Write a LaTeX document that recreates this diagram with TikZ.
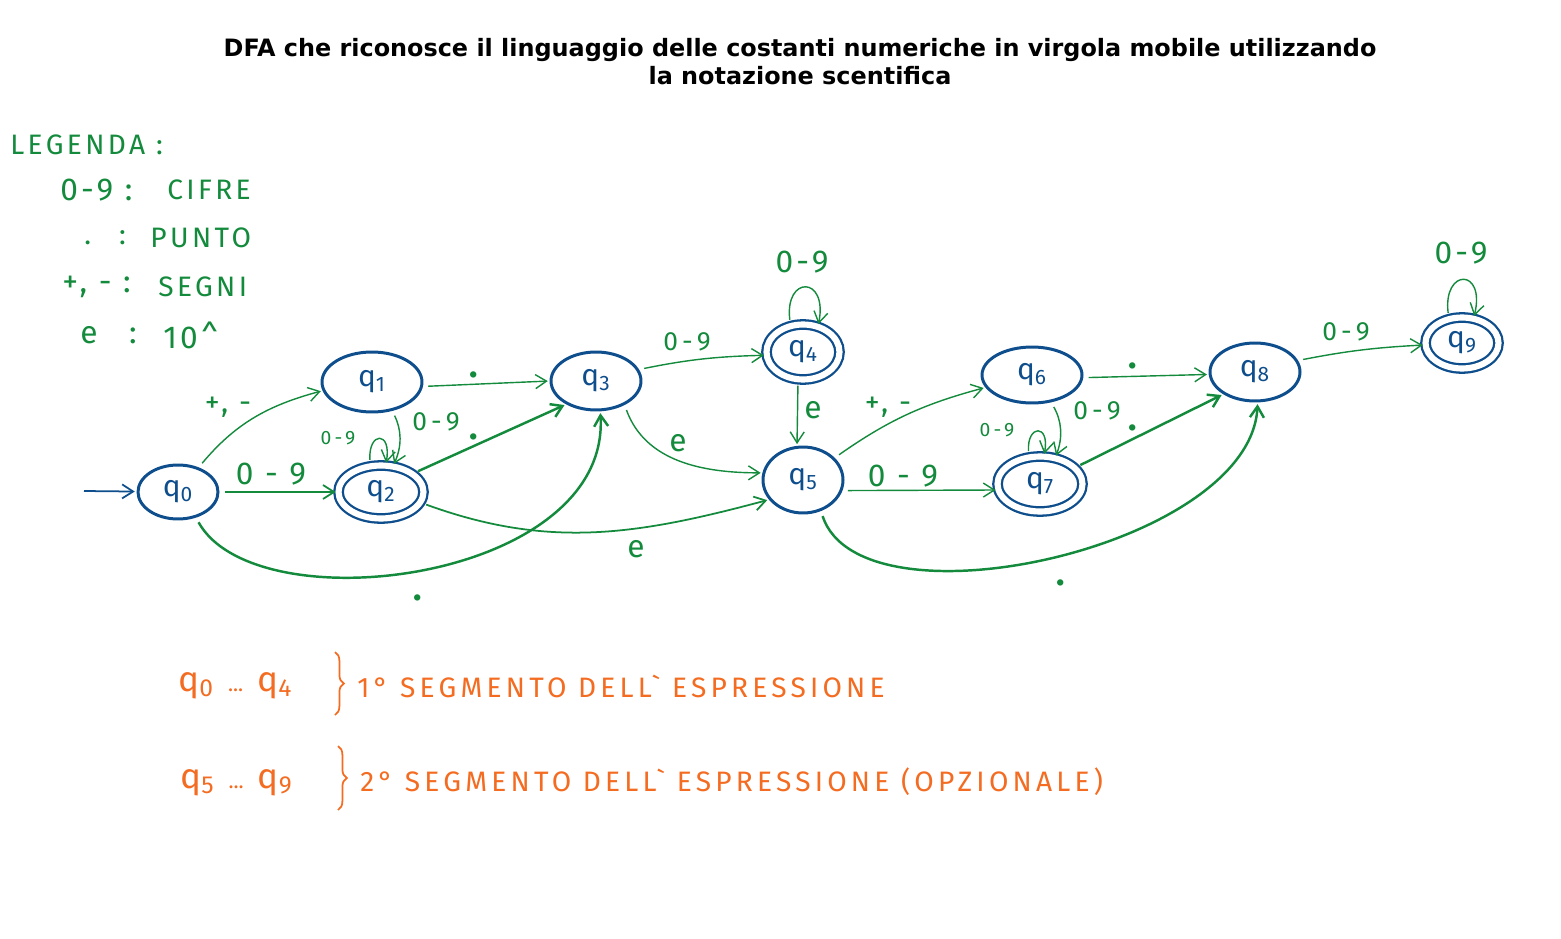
\documentclass[tikz,border=0pt]{standalone}
\usepackage{fontspec}
\setmainfont{Fira Sans}
\newfontfamily\titlefont{DejaVu Sans}
\usetikzlibrary{
  arrows.meta,
  shapes.geometric,
  decorations.pathreplacing
}
\definecolor{dfaBlue}{HTML}{0E4E8C}
\definecolor{dfaGreen}{HTML}{138A3C}
\definecolor{dfaOrange}{HTML}{F36C21}
\newcommand{\qs}[1]{q\textsubscript{#1}}
\newcommand{\qrange}[2]{\qs{#1}\hspace{0.4em}{\fontsize{12}{12}\selectfont ...}\hspace{0.4em}\qs{#2}}
\tikzset{
  dfastate/.style={
    draw=dfaBlue, ellipse, line width=1.7pt, inner sep=0pt,
    text=dfaBlue, font=\fontsize{17}{17}\selectfont
  },
  dfafinal/.style={dfastate, double, double distance=3.5pt, line width=1.3pt},
  trans/.style={-{Straight Barb[length=2.2mm, width=2.8mm]}, dfaGreen, line width=0.8pt,
    shorten <=3pt, shorten >=1pt},
  transbold/.style={trans, line width=1.4pt},
  lbl/.style={text=dfaGreen, inner sep=0pt, font=\fontsize{15}{15}\selectfont\addfontfeature{LetterSpace=16}},
  lblbig/.style={lbl, font=\fontsize{18}{18}\selectfont\addfontfeature{LetterSpace=10}},
  lblsmall/.style={lbl, font=\fontsize{11}{11}\selectfont\addfontfeature{LetterSpace=16}},
  lblsign/.style={lbl, font=\fontsize{17}{17}\selectfont\addfontfeature{LetterSpace=10}},
  lbldot/.style={lbl, font=\fontsize{20}{20}\bfseries\selectfont},
  legend/.style={text=dfaGreen, anchor=west, inner sep=0pt,
    font=\fontsize{16}{16}\selectfont\addfontfeature{LetterSpace=12}},
  note/.style={text=dfaOrange, anchor=base west, inner sep=0pt,
    font=\fontsize{16}{16}\selectfont\addfontfeature{LetterSpace=15}},
  noteq/.style={note, font=\fontsize{20}{20}\selectfont},
  notebrace/.style={decorate, decoration={brace, amplitude=5pt}, dfaOrange, line width=1pt}
}

\begin{document}
\begin{tikzpicture}[x=0.02cm, y=0.02cm]
  \useasboundingbox (0,0) rectangle (1561,-939);

  % title
  \node[font=\titlefont\bfseries\fontsize{13.6}{16}\selectfont, align=center] (title) at (800,-62)
    {DFA che riconosce il linguaggio delle costanti numeriche in virgola mobile utilizzando\\la notazione scentifica};

  % legend
  \node[legend] (leg) at (10,-145) {LEGENDA :};
  \node[legend, font=\fontsize{18}{18}\selectfont\addfontfeature{LetterSpace=10}] (k1) at (60,-190) {0-9 :};
  \node[legend] (v1) at (167,-190) {CIFRE};
  \node[legend] (k2) at (84,-238) {.\quad :};
  \node[legend] (v2) at (150,-238) {PUNTO};
  \node[legend, font=\fontsize{18}{18}\selectfont\addfontfeature{LetterSpace=10}] (k3) at (62,-287) {+, - :};
  \node[legend] (v3) at (158,-287) {SEGNI};
  \node[legend, font=\fontsize{18}{18}\selectfont] (k4) at (80,-335) {e\quad :};
  \node[legend, font=\fontsize{18}{18}\selectfont\addfontfeature{LetterSpace=10}] (v4) at (163,-335) {10\textasciicircum};

  % states
  \node[dfastate, minimum width=1.6cm, minimum height=1.08cm] (q0) at (178,-492) {\qs{0}};
  \node[dfastate, minimum width=2.0cm, minimum height=1.2cm] (q1) at (372,-382) {\qs{1}};
  \node[dfafinal, minimum width=1.7cm, minimum height=1.06cm] (q2) at (381,-492) {\qs{2}};
  \node[dfastate, minimum width=1.8cm, minimum height=1.16cm] (q3) at (596,-381) {\qs{3}};
  \node[dfafinal, minimum width=1.46cm, minimum height=1.1cm] (q4) at (803,-352) {\qs{4}};
  \node[dfastate, minimum width=1.6cm, minimum height=1.32cm] (q5) at (803,-480) {\qs{5}};
  \node[dfastate, minimum width=2.0cm, minimum height=1.12cm] (q6) at (1032,-375) {\qs{6}};
  \node[dfafinal, minimum width=1.7cm, minimum height=1.1cm] (q7) at (1040,-484) {\qs{7}};
  \node[dfastate, minimum width=1.8cm, minimum height=1.16cm] (q8) at (1255,-372) {\qs{8}};
  \node[dfafinal, minimum width=1.46cm, minimum height=1.02cm] (q9) at (1462,-343) {\qs{9}};

  % transitions
  \coordinate (start) at (84,-491);
  \draw[trans, dfaBlue, line width=1pt, shorten <=0pt] (start) -- (q0);
  \draw[trans] (q0.50) to[out=50, in=195] (q1.190);
  \draw[trans, line width=1pt] (q0) -- (q2);
  \draw[transbold] (q0.-55) .. controls +(60,-108) and +(10,-170) .. (q3.-82);
  \draw[trans] (q1.-5) -- (q3.180);
  \draw[trans] (q1.-55) to[bend left=25] (q2.65);
  \draw[trans] (q2.112) .. controls +(-2,34) and +(6,34) .. (q2.80);
  \draw[transbold] (q2.30) -- (q3.218);
  \draw[trans, line width=1pt] (q2.-15) to[out=-20, in=195] (q5.210);
  \draw[trans] (q3.15) to[bend left=5] (q4.185);
  \draw[trans] (q3.-40) to[out=-70, in=180] (q5.170);
  \draw[trans] (q4.115) .. controls +(-6,50) and +(10,50) .. (q4.60);
  \draw[trans] (q4.260) -- (q5.100);
  \draw[trans] (q5.35) to[out=35, in=195] (q6.195);
  \draw[trans] (q5.-15) -- (q7.188);
  \draw[transbold] (q5.-60) .. controls +(40,-122) and +(-7,-145) .. (q8.-85);
  \draw[trans] (q6.-3) -- (q8.183);
  \draw[trans] (q6.-55) to[bend left=25] (q7.60);
  \draw[trans] (q7.112) .. controls +(-2,32) and +(6,32) .. (q7.82);
  \draw[transbold] (q7.25) -- (q8.215);
  \draw[trans] (q8.15) to[bend left=4] (q9.183);
  \draw[trans] (q9.118) .. controls +(-6,50) and +(12,50) .. (q9.65);

  % transition labels
  \node[lblsign] (l01) at (228,-407) {+, -};
  \node[lblbig] (l02) at (271,-474) {0 - 9};
  \node[lbldot] (l03) at (418,-598) {.};
  \node[lbldot] (l13) at (474,-375) {.};
  \node[lbl] (l12) at (436,-422) {0-9};
  \node[lblsmall] (l22) at (338,-438) {0-9};
  \node[lbldot] (l23) at (474,-437) {.};
  \node[lblbig] (l25) at (636,-549) {e};
  \node[lbl] (l34) at (687,-342) {0-9};
  \node[lblbig] (l35) at (678,-443) {e};
  \node[lblbig] (l44) at (802,-262) {0-9};
  \node[lblbig] (l45) at (813,-410) {e};
  \node[lblsign] (l56) at (888,-407) {+, -};
  \node[lblbig] (l57) at (903,-476) {0 - 9};
  \node[lbldot] (l58) at (1061,-583) {.};
  \node[lbldot] (l68) at (1133,-366) {.};
  \node[lbl] (l67) at (1097,-411) {0-9};
  \node[lblsmall] (l77) at (997,-430) {0-9};
  \node[lbldot] (l78) at (1133,-428) {.};
  \node[lbl] (l89) at (1346,-332) {0-9};
  \node[lblbig] (l99) at (1461,-253) {0-9};

  % segments
  \node[noteq] (n1) at (178,-691) {\qrange{0}{4}};
  \draw[notebrace] (335,-652) -- (335,-715);
  \node[note] (n2) at (357,-697) {1° SEGMENTO DELL\textasciigrave{} ESPRESSIONE};
  \node[noteq] (n3) at (180,-788) {\qrange{5}{9}};
  \draw[notebrace] (338,-746) -- (338,-810);
  \node[note] (n4) at (360,-791) {2° SEGMENTO DELL\textasciigrave{} ESPRESSIONE (OPZIONALE)};
\end{tikzpicture}
\end{document}
